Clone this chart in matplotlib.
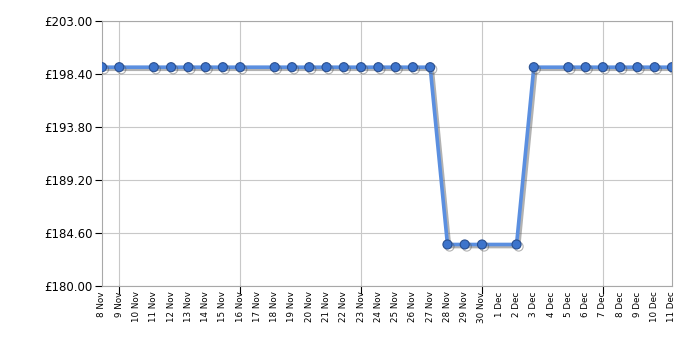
from datetime import datetime, timedelta

import matplotlib
matplotlib.use("Agg")
import matplotlib.pyplot as plt
import matplotlib.dates as mdates
import matplotlib.patheffects as pe

# price history
dates = [
    "2020-11-08", "2020-11-09", "2020-11-11", "2020-11-12", "2020-11-13",
    "2020-11-14", "2020-11-15", "2020-11-16", "2020-11-18", "2020-11-19",
    "2020-11-20", "2020-11-21", "2020-11-22", "2020-11-23", "2020-11-24",
    "2020-11-25", "2020-11-26", "2020-11-27", "2020-11-28", "2020-11-29",
    "2020-11-30", "2020-12-02", "2020-12-03", "2020-12-05", "2020-12-06",
    "2020-12-07", "2020-12-08", "2020-12-09", "2020-12-10", "2020-12-11",
]
prices = [
    198.99, 198.99, 198.99, 198.99, 198.99,
    198.99, 198.99, 198.99, 198.99, 198.99,
    198.99, 198.99, 198.99, 198.99, 198.99,
    198.99, 198.99, 198.99, 183.60, 183.60,
    183.60, 183.60, 198.99, 198.99, 198.99,
    198.99, 198.99, 198.99, 198.99, 198.99,
]
y_ticks = [180.00, 184.60, 189.20, 193.80, 198.40, 203.00]

x = [datetime.strptime(d, "%Y-%m-%d") for d in dates]

fig = plt.figure(figsize=(7, 3.5), dpi=100)
ax = fig.add_axes([0.1457, 0.183, 0.8143, 0.757])

ax.plot(
    x, prices,
    color="#5b8fe0",
    linewidth=2.6,
    marker="o",
    markersize=6.5,
    markerfacecolor="#3d74cc",
    markeredgecolor="#2a4f8f",
    markeredgewidth=0.8,
    zorder=3,
    path_effects=[
        pe.SimpleLineShadow(offset=(1.5, -1.5), shadow_color="#555555", alpha=0.45),
        pe.Normal(),
    ],
)

# x axis: every day labelled, weekly grid lines
start = x[0]
end = x[-1]
all_days = [start + timedelta(days=i) for i in range((end - start).days + 1)]
ax.set_xlim(start, end)
ax.set_xticks(all_days)
ax.set_xticklabels([f"{d.day} {d.strftime('%b')}" for d in all_days],
                   rotation=90, fontsize=6.3)
ax.tick_params(axis="x", length=0, pad=4)

weekly = [d for d in all_days if d.weekday() == 0]
for d in weekly:
    ax.axvline(d, color="#c8c8c8", linewidth=0.8, zorder=1)
    ax.plot([d, d], [0, -0.025], color="black", linewidth=0.8,
            transform=ax.get_xaxis_transform(), clip_on=False)

ax.set_ylim(180, 203)
ax.set_yticks(y_ticks)
ax.set_yticklabels([f"£{v:.2f}" for v in y_ticks], fontsize=8.5)
ax.tick_params(axis="y", length=5, width=0.8, color="black", pad=2)
ax.yaxis.grid(True, color="#c8c8c8", linewidth=0.8, zorder=1)
ax.set_axisbelow(True)

for side in ["top", "right", "left", "bottom"]:
    ax.spines[side].set_color("#a8a8a8")
    ax.spines[side].set_linewidth(0.8)

fig.savefig("out.png", dpi=100)
